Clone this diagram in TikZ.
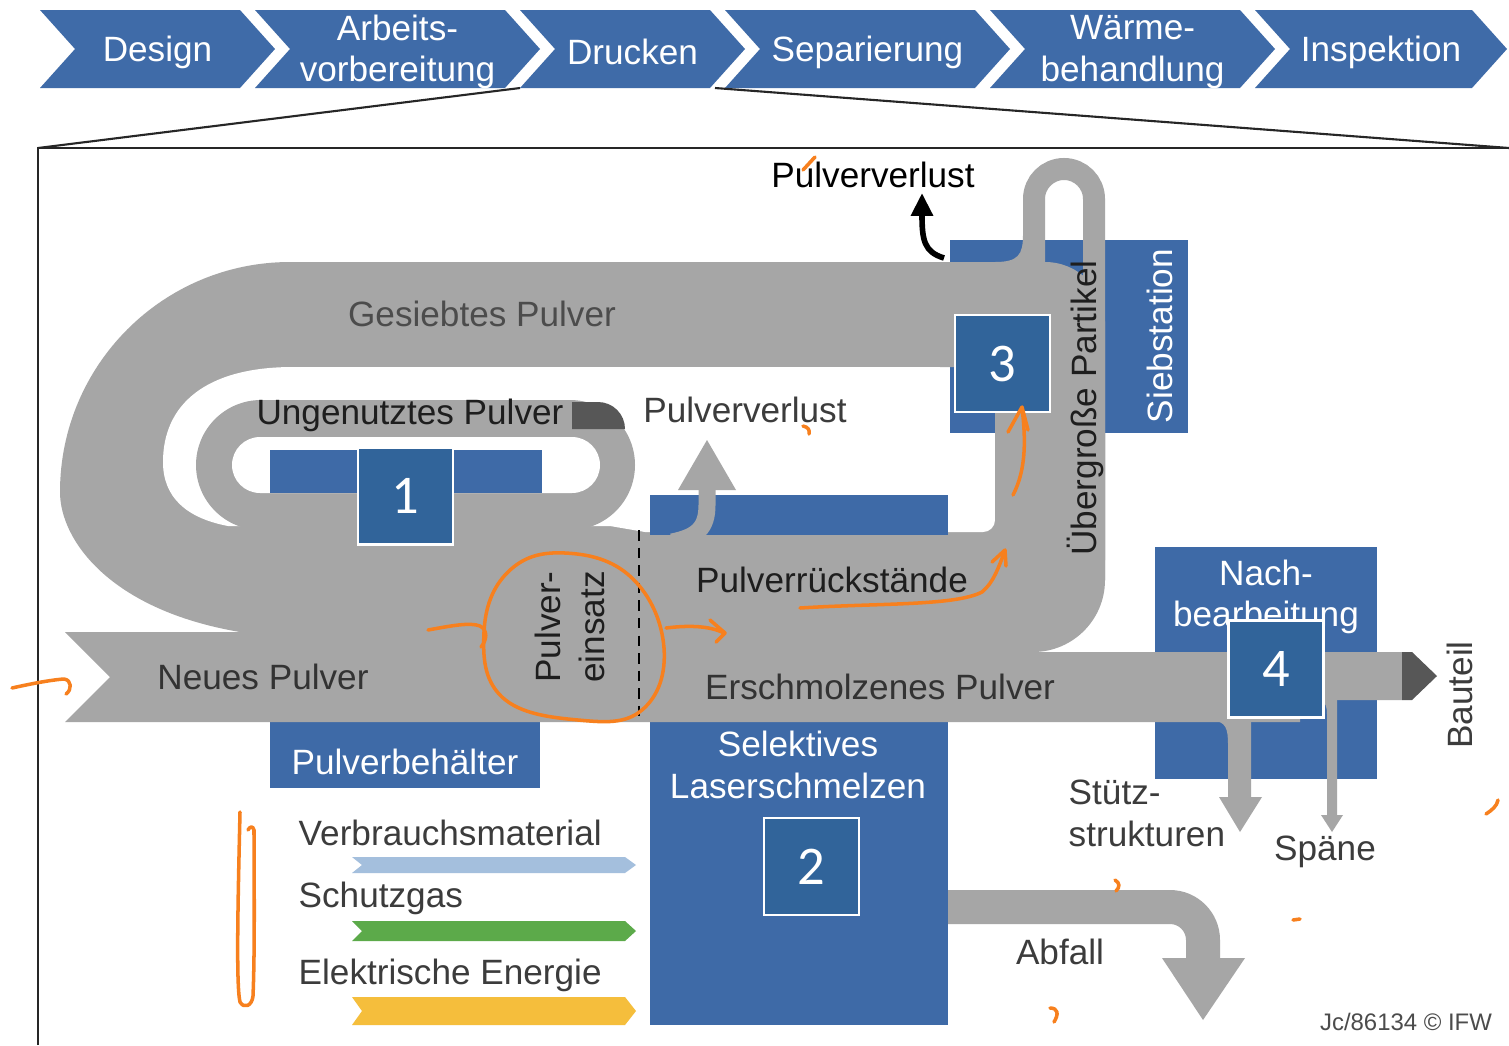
\documentclass[tikz,border=0pt]{standalone}
\usepackage{fontspec}
\setmainfont{Liberation Sans}
\newfontfamily\numfont{Carlito}
\usetikzlibrary{arrows.meta}
\definecolor{bannerblue}{HTML}{3F6BA8}
\definecolor{stationblue}{HTML}{3E6AA7}
\definecolor{numblue}{HTML}{31649A}
\definecolor{pipegray}{HTML}{A6A6A6}
\definecolor{pipedark}{HTML}{575757}
\definecolor{txt}{HTML}{3C3C3C}
\definecolor{txtdark}{HTML}{1E1E1E}
\definecolor{consum}{HTML}{A4BFDD}
\definecolor{gas}{HTML}{5CAA4A}
\definecolor{energy}{HTML}{F5BE3C}
\definecolor{penorange}{HTML}{F7801E}
\tikzset{
  frame/.style={draw=black!85, line width=0.6pt},
  numbox/.style={draw=white, line width=0.6pt, fill=numblue, text=white, minimum width=0.95cm, minimum height=0.97cm, inner sep=0pt, font=\numfont\fontsize{15.5}{16}\selectfont},
  lbl/.style={text=txt, inner sep=0pt, font=\fontsize{10}{12}\selectfont},
  dlbl/.style={text=txtdark, inner sep=0pt, font=\fontsize{10}{12.5}\selectfont},
  wlbl/.style={text=white, inner sep=0pt, align=center, font=\fontsize{10}{11.8}\selectfont},
  scribble/.style={draw=penorange, line width=1pt, line cap=round, line join=round}
}
\begin{document}
\begin{tikzpicture}[x=0.01cm, y=0.01cm]
  \useasboundingbox (0,0) rectangle (1509,-1045);
  \fill[white] (0,0) rectangle (1509,-1045);

  % process chain
  \foreach \xl/\xr/\name/\txt in {40/240/design/Design, 255/505/prep/{Arbeits-\\vorbereitung}, 520/710/print/Drucken, 725/975/sep/Separierung, 990/1240/heat/{Wärme-\\behandlung}, 1255/1472/insp/Inspektion}{
    \fill[bannerblue] (\xl,-10) -- (\xr,-10) -- ({\xr+35},-49) -- (\xr,-88) -- (\xl,-88) -- ({\xl+35},-49) -- cycle;
    \node[wlbl] (\name) at ({(\xl+35+\xr)/2},-52) {\txt};
  }

  \coordinate (zoomL) at (520,-88);
  \coordinate (zoomR) at (715,-88);
  \coordinate (frameTL) at (38,-148);
  \coordinate (frameTR) at (1509,-148);
  \coordinate (frameBL) at (38,-1045);
  \draw[frame] (zoomL) -- (frameTL);
  \draw[frame] (zoomR) -- (frameTR);
  \draw[frame] (frameBL) -- (frameTL) -- (frameTR);

  % stations
  \fill[stationblue] (270,-722) rectangle (540,-788);
  \fill[stationblue] (650,-722) rectangle (948,-1025);
  \fill[stationblue] (1155,-547) rectangle (1377,-779);
  \node[wlbl] (post) at (1266,-597) {Nach-\\bearbeitung};

  % powder flows
  \fill[pipegray] (1105,-262) -- (1105,-580) arc[start angle=0, end angle=-90, radius=72] -- (240,-652) -- (240,-632)
    .. controls (110,-610) and (60,-540) .. (60,-492) arc[start angle=180, end angle=90, radius=230] -- cycle;
  \fill[pipegray] (65,-632) -- (640,-632) -- (640,-652) -- (1402,-652) -- (1402,-700) -- (1300,-700) -- (1300,-722) -- (65,-722) -- (110,-677) -- cycle;
  \fill[white] (995,-367) -- (293,-367) .. controls (205,-367) and (163,-405) .. (163,-462)
    .. controls (163,-497) and (186,-518) .. (228,-526) -- (610,-526) -- (645,-532) -- (983,-532) arc[start angle=-90, end angle=0, radius=12] -- cycle;

  \fill[stationblue] (950,-240) rectangle (1188,-433);
  \fill[pipegray] (940,-262) -- (1045,-262) arc[start angle=90, end angle=0, radius=60] -- (1105,-580) -- (995,-580) -- (995,-367) -- (940,-367) -- cycle;
  \draw[pipegray, line width=0.22cm] (1034,-300) -- (1034,-199) arc[start angle=180, end angle=0, radius=30] -- (1094,-560);
  \fill[pipegray] (995,-262) .. controls (1018,-262) and (1023,-255) .. (1023,-235) -- (1034,-235) -- (1034,-262) -- cycle;

  \fill[pipegray, rounded corners=0.65cm] (196,-400) rectangle (635,-530);
  \fill[white, rounded corners=0.28cm] (232,-437) rectangle (600,-493);
  \fill[stationblue] (270,-450) rectangle (542,-493);
  \fill[pipedark] (572,-402) -- (598,-402) arc[start angle=90, end angle=0, radius=27] -- (572,-429) -- cycle;

  \fill[stationblue] (650,-495) rectangle (948,-535);
  \draw[pipegray, line width=0.17cm] (707,-488) -- (707,-505) .. controls (707,-528) and (697,-537) .. (672,-542);
  \fill[pipegray] (678,-490) -- (736,-490) -- (707,-440) -- cycle;

  \fill[pipedark] (1402,-652) -- (1412,-652) -- (1437,-676) -- (1412,-700) -- (1402,-700) -- cycle;
  \fill[pipegray] (1212,-720) .. controls (1226,-722) and (1228,-728) .. (1228,-745) -- (1228,-797) -- (1219,-797) -- (1240,-832) -- (1262,-797) -- (1251,-797) -- (1251,-700) -- cycle;
  \fill[pipegray] (1318,-700) .. controls (1326,-702) and (1327,-706) .. (1327,-715) -- (1327,-815) -- (1321,-815) -- (1332,-832) -- (1343,-815) -- (1337,-815) -- (1337,-700) -- cycle;
  \fill[pipegray] (948,-890) -- (1170,-890) arc[start angle=90, end angle=0, radius=50] -- (1220,-958) -- (1245,-958) -- (1203,-1020) -- (1162,-958) -- (1186,-958) -- (1186,-940) arc[start angle=0, end angle=90, radius=16] -- (948,-924) -- cycle;

  \draw[black, line width=0.6pt, dash pattern=on 3pt off 2pt] (639,-530) -- (639,-720);

  \coordinate (lossfrom) at (944,-258);
  \coordinate (lossto) at (922,-193);
  \draw[black, line width=1.6pt, -{Triangle[length=6.5pt, width=6pt]}] (lossfrom) .. controls (924,-252) and (922,-240) .. (lossto);

  % numbered steps
  \node[numbox] (n1) at (405.5,-496) {1};
  \node[numbox] (n2) at (811.5,-866.5) {2};
  \node[numbox] (n3) at (1002.5,-363.5) {3};
  \node[numbox] (n4) at (1276,-669) {4};

  % labels
  \node[dlbl, text=black] (losstop) at (873,-175) {Pulververlust};
  \node[lbl, text=black!70] (sieved) at (482,-314) {Gesiebtes Pulver};
  \node[dlbl] (unused) at (410,-415) {Ungenutztes Pulver};
  \node[lbl] (lossmid) at (745,-410) {Pulververlust};
  \node[wlbl, rotate=90] (sieve) at (1160,-336) {Siebstation};
  \node[dlbl, rotate=90] (oversize) at (1085,-408) {Übergroße Partikel};
  \node[dlbl, rotate=90, align=center, font=\fontsize{10}{12.5}\selectfont] (feed) at (570,-627) {Pulver-\\einsatz};
  \node[dlbl] (residue) at (832,-580) {Pulverrückstände};
  \node[dlbl, text=black!80] (fresh) at (263,-677) {Neues Pulver};
  \node[dlbl, text=black!80] (molten) at (880,-687) {Erschmolzenes Pulver};
  \node[lbl, rotate=90] (part) at (1460,-695) {Bauteil};
  \node[wlbl] (tank) at (405,-762) {Pulverbehälter};
  \node[wlbl] (slm) at (798,-765) {Selektives\\Laserschmelzen};
  \node[lbl, align=left, anchor=west] (support) at (1068,-813) {Stütz-\\strukturen};
  \node[lbl] (chips) at (1325,-852) {Späne};
  \node[lbl] (waste) at (1060,-952) {Abfall};
  \node[text=black!70, inner sep=0pt, font=\fontsize{6.8}{8}\selectfont] (copy) at (1406,-1022) {Jc/86134 © IFW};

  % legend
  \node[lbl, anchor=west] (leg1) at (298,-833) {Verbrauchsmaterial};
  \node[lbl, anchor=west] (leg2) at (298,-898) {Schutzgas};
  \node[lbl, anchor=west] (leg3) at (298,-975) {Elektrische Energie};
  \foreach \yc/\hw/\col in {865/8/consum, 931/10/gas, 1011/14/energy}
    \fill[\col] (352,{-\yc+\hw}) -- (625,{-\yc+\hw}) -- (636,-\yc) -- (625,{-\yc-\hw}) -- (352,{-\yc-\hw}) -- (362,-\yc) -- cycle;

  % hand annotations
  \draw[scribble] plot[smooth cycle, tension=0.7] coordinates {(565,-553) (632,-578) (664,-648) (642,-710) (578,-720) (502,-697) (484,-632) (508,-572)};
  \draw[scribble] (428,-630) .. controls (450,-626) and (470,-622) .. (480,-626) .. controls (488,-630) and (487,-640) .. (481,-647);
  \draw[scribble] (666,-628) .. controls (690,-625) and (710,-626) .. (724,-633);
  \draw[scribble] (710,-620) -- (725,-633) -- (716,-642);
  \draw[scribble] (800,-608) .. controls (880,-603) and (955,-606) .. (982,-592) .. controls (994,-582) and (998,-568) .. (1005,-551);
  \draw[scribble] (992,-562) -- (1005,-550) -- (1006,-566);
  \draw[scribble] (1013,-495) .. controls (1026,-470) and (1026,-440) .. (1022,-408);
  \draw[scribble] (1008,-432) -- (1022,-407) -- (1028,-430);
  \draw[scribble] (12,-688) .. controls (30,-684) and (50,-680) .. (64,-679) .. controls (72,-680) and (72,-690) .. (66,-694);
  \draw[scribble] (240,-812) .. controls (238,-900) and (236,-985) .. (240,-1002) .. controls (244,-1009) and (252,-1006) .. (253,-996)
    .. controls (255,-950) and (254,-870) .. (254,-830) .. controls (253,-826) and (250,-826) .. (248,-830);
  \draw[scribble] (803,-170) -- (815,-157);
  \draw[scribble] (803,-426) .. controls (808,-427) and (810,-430) .. (809,-434);
  \draw[scribble] (1115,-880) .. controls (1120,-883) and (1120,-887) .. (1116,-891);
  \draw[scribble] (1050,-1008) .. controls (1058,-1008) and (1059,-1014) .. (1054,-1022);
  \draw[scribble] (1293,-920) -- (1300,-919);
  \draw[scribble] (1486,-814) .. controls (1492,-810) and (1497,-806) .. (1498,-800);
\end{tikzpicture}
\end{document}
